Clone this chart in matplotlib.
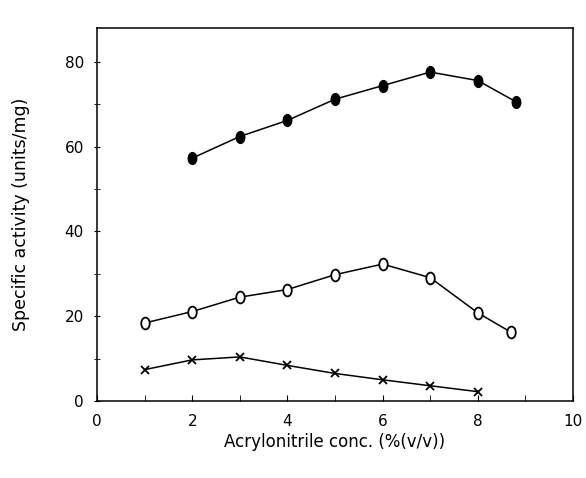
import numpy as np
import matplotlib.pyplot as plt
from matplotlib.path import Path
from matplotlib.transforms import Affine2D

# data
x_filled = [2, 3, 4, 5, 6, 7, 8, 8.8]
y_filled = [57.3, 62.4, 66.2, 71.2, 74.4, 77.6, 75.6, 70.6]

x_open = [1, 2, 3, 4, 5, 6, 7, 8, 8.7]
y_open = [18.4, 21.1, 24.5, 26.3, 29.8, 32.3, 29.1, 20.8, 16.2]

x_cross = [1, 2, 3, 4, 5, 6, 7, 8]
y_cross = [7.4, 9.7, 10.4, 8.4, 6.5, 5.0, 3.6, 2.2]

xticks = [0, 2, 4, 6, 8, 10]
yticks = [0, 20, 40, 60, 80]

# tall ellipse marker, like the printed symbols
ellipse = Path.unit_circle().transformed(Affine2D().scale(0.72, 1.0))

fig = plt.figure(figsize=(5.86, 4.78), dpi=100)
ax = fig.add_axes([97/586, 1 - 401/478, 476/586, 373/478])

ax.plot(x_filled, y_filled, "k-", lw=1.1, marker=ellipse, ms=8.5, mfc="k", mec="k")
ax.plot(x_open, y_open, "k-", lw=1.1, marker=ellipse, ms=8.5, mfc="white", mec="k", mew=1.3)
ax.plot(x_cross, y_cross, "k-", lw=1.1, marker="x", ms=5.5, mew=1.3)

ax.set_xlim(0, 10)
ax.set_ylim(0, 88)
ax.set_xticks(xticks)
ax.set_xticks(range(0, 11), minor=True)
ax.set_yticks(yticks)
ax.set_yticks(range(0, 90, 10), minor=True)
ax.tick_params(axis="x", which="both", direction="in", length=4, labelsize=11, pad=9)
ax.tick_params(axis="y", which="both", direction="inout", length=5, labelsize=11, pad=7)
for s in ax.spines.values():
    s.set_linewidth(1.1)

ax.set_xlabel("Acrylonitrile conc. (%(v/v))", fontsize=12, labelpad=3)
ax.set_ylabel("Specific activity (units/mg)", fontsize=12.5, labelpad=25)

plt.savefig("out.png", dpi=100)
